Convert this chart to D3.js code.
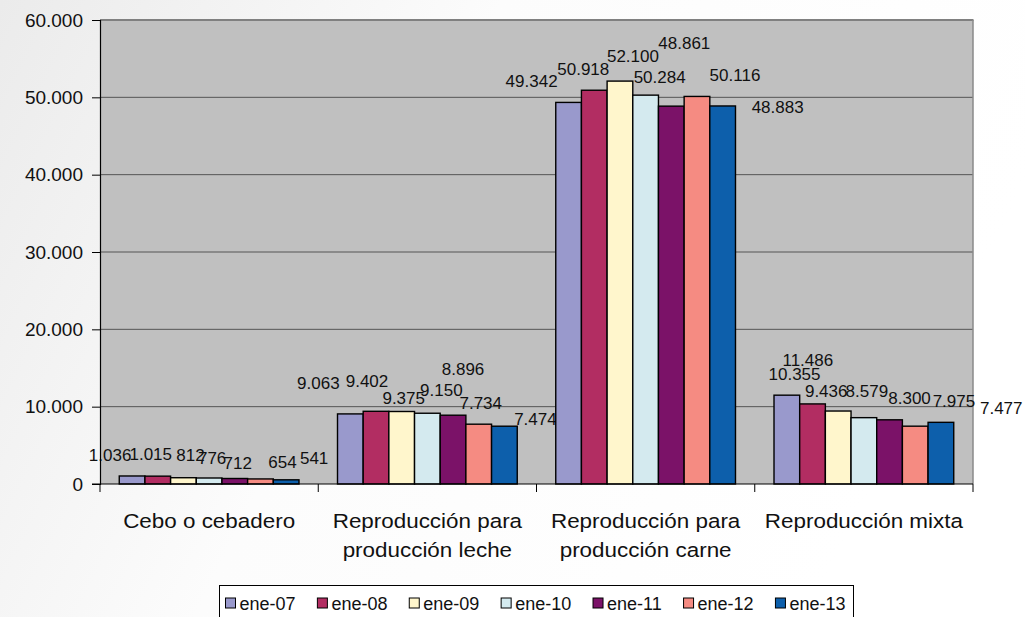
<!DOCTYPE html>
<html>
<head>
<meta charset="utf-8">
<script src="https://cdn.jsdelivr.net/npm/d3@7"></script>
<style>
  html, body { margin: 0; padding: 0; }
  body { width: 1025px; height: 617px; overflow: hidden; }
  svg { display: block; font-family: "Liberation Sans", Arial, sans-serif; }
</style>
</head>
<body>
<svg id="chart" width="1025" height="617"></svg>
<script>
// ---- data ----
const categories = ["Cebo o cebadero", "Reproducción para producción leche", "Reproducción para producción carne", "Reproducción mixta"];
const categoryLines = [["Cebo o cebadero"], ["Reproducción para", "producción leche"], ["Reproducción para", "producción carne"], ["Reproducción mixta"]];
const seriesNames = ["ene-07", "ene-08", "ene-09", "ene-10", "ene-11", "ene-12", "ene-13"];
const ene07 = [1036, 9063, 49342, 11486];
const ene08 = [1015, 9402, 50918, 10355];
const ene09 = [812, 9375, 52100, 9436];
const ene10 = [776, 9150, 50284, 8579];
const ene11 = [712, 8896, 48861, 8300];
const ene12 = [654, 7734, 50116, 7477];
const ene13 = [541, 7474, 48883, 7975];
const yTicks = [0, 10000, 20000, 30000, 40000, 50000, 60000];

// ---- presentation ----
const FONT = "'Liberation Sans', Arial, sans-serif";
const colors = ["#9999CC", "#B22D62", "#FFF6CC", "#D4EAEF", "#7B1268", "#F58B82", "#0D5FAB"];
// nudges of the data labels (dx, dy) relative to their default place above each bar, per category then series
const labelNudge = [
  [[-22,-9],[-7,-10],[7,-11],[3,-8],[3,-3],[22,-5],[28,-10]],
  [[-32,-19],[-9,-18],[2,-2],[14,-11],[10,-34],[2,-9],[31,5]],
  [[-37,-9],[-11,-9],[13,-13],[14,-6],[13,-51],[38,-9],[55,13]],
  [[21,-23],[-18,-18],[-12,-8],[3,-15],[20,-10],[86,-6],[13,-9]]
];

const seriesValues = [ene07, ene08, ene09, ene10, ene11, ene12, ene13];
const table = categories.map((c, ci) => ({
  cat: c, ci,
  vals: seriesNames.map((s, si) => ({ s, si, ci, v: seriesValues[si][ci] }))
}));

const svg = d3.select("#chart");
const W = 1025, H = 617;
const plot = { left: 100, right: 973, top: 20, bottom: 484 };

const locale = d3.formatLocale({ decimal: ",", thousands: ".", grouping: [3], currency: ["", ""] });
const fmt = locale.format(",d");

// background gradient
const defs = svg.append("defs");
const grad = defs.append("linearGradient").attr("id", "bg").attr("x1", "0").attr("y1", "0").attr("x2", "1").attr("y2", "0.3");
grad.append("stop").attr("offset", "0").attr("stop-color", "#ebebeb");
grad.append("stop").attr("offset", "0.45").attr("stop-color", "#fcfcfc");
grad.append("stop").attr("offset", "1").attr("stop-color", "#ffffff");
svg.append("rect").attr("width", W).attr("height", H).attr("fill", "url(#bg)");

const x0 = d3.scaleBand().domain(categories).range([plot.left, plot.right]).padding(0);
const bw = x0.bandwidth();
const gap = bw * 1.5 / 8.5;
const x1 = d3.scaleBand().domain(seriesNames).range([gap / 2, bw - gap / 2]).padding(0);
const y = d3.scaleLinear().domain([0, 60000]).range([plot.bottom, plot.top]);

// plot area
svg.append("rect")
  .attr("x", plot.left).attr("y", plot.top)
  .attr("width", plot.right - plot.left).attr("height", plot.bottom - plot.top)
  .attr("fill", "#C0C0C0");

// gridlines
svg.append("g").selectAll("line").data(yTicks.filter(t => t > 0 && t < 60000)).join("line")
  .attr("x1", plot.left).attr("x2", plot.right)
  .attr("y1", d => y(d)).attr("y2", d => y(d))
  .attr("stroke", "#555").attr("stroke-width", 1);
svg.append("line").attr("x1", plot.left).attr("x2", plot.right + 0.5)
  .attr("y1", y(60000)).attr("y2", y(60000)).attr("stroke", "#808080").attr("stroke-width", 2);
svg.append("line").attr("x1", plot.right).attr("x2", plot.right)
  .attr("y1", plot.top).attr("y2", plot.bottom).attr("stroke", "#8a8a8a").attr("stroke-width", 1.5);

// bars
const groups = svg.append("g").selectAll("g").data(table).join("g")
  .attr("transform", d => `translate(${x0(d.cat)},0)`);
groups.selectAll("rect").data(d => d.vals).join("rect")
  .attr("x", d => x1(d.s)).attr("y", d => y(d.v))
  .attr("width", x1.bandwidth()).attr("height", d => y(0) - y(d.v))
  .attr("fill", d => colors[d.si]).attr("stroke", "#000").attr("stroke-width", 1.4);

// data labels
groups.selectAll("text").data(d => d.vals).join("text")
  .attr("x", d => x1(d.s) + x1.bandwidth() / 2 + labelNudge[d.ci][d.si][0])
  .attr("y", d => y(d.v) - 6 + labelNudge[d.ci][d.si][1])
  .attr("text-anchor", "middle").attr("font-size", "17px").attr("font-family", FONT).attr("fill", "#111")
  .text(d => fmt(d.v));

// y axis
const yAxis = d3.axisLeft(y).tickValues(yTicks).tickSize(8).tickPadding(9).tickFormat(d => fmt(d));
const gy = svg.append("g").attr("transform", `translate(${plot.left},0)`).call(yAxis);
gy.select(".domain").attr("stroke", "#000").attr("stroke-width", 1.2);
gy.selectAll(".tick line").attr("stroke", "#000");
gy.selectAll(".tick text").attr("font-size", "19px").attr("fill", "#111").attr("font-family", FONT);

// x axis
const gx = svg.append("g").attr("transform", `translate(0,${plot.bottom})`);
gx.append("line").attr("x1", plot.left - 8).attr("x2", plot.right).attr("y1", 0).attr("y2", 0).attr("stroke", "#000").attr("stroke-width", 1.2);
const bounds = categories.map(c => x0(c)).concat([plot.right]);
gx.selectAll("line.tk").data(bounds).join("line").attr("class", "tk")
  .attr("x1", d => d).attr("x2", d => d).attr("y1", 0).attr("y2", 8).attr("stroke", "#000");
categories.forEach((c, i) => {
  categoryLines[i].forEach((line, li) => {
    gx.append("text")
      .attr("transform", `translate(${x0(c) + bw / 2},${44 + li * 29}) scale(1.15,1)`)
      .attr("text-anchor", "middle").attr("font-size", "19.5px").attr("font-family", FONT).attr("fill", "#111")
      .text(line);
  });
});

// legend
const lg = svg.append("g");
const lgBox = { x: 219.5, y: 585.5, w: 634, h: 40 };
lg.append("rect").attr("x", lgBox.x).attr("y", lgBox.y).attr("width", lgBox.w).attr("height", lgBox.h)
  .attr("fill", "#fff").attr("stroke", "#000").attr("stroke-width", 1);
const items = lg.selectAll("g").data(seriesNames).join("g");
items.append("rect").attr("width", 10).attr("height", 10).attr("y", 598)
  .attr("fill", (d, i) => colors[i]).attr("stroke", "#000").attr("stroke-width", 1);
items.append("text").attr("x", 14).attr("y", 610).attr("font-size", "18px").attr("font-family", FONT).attr("fill", "#111").text(d => d);
const widths = items.nodes().map(n => 14 + d3.select(n).select("text").node().getComputedTextLength());
const totalW = d3.sum(widths);
const padL = 6, padR = 8;
const between = (lgBox.w - padL - padR - totalW) / (seriesNames.length - 1);
let cx = lgBox.x + padL;
items.each(function(d, i) {
  d3.select(this).attr("transform", `translate(${cx},0)`);
  cx += widths[i] + between;
});
</script>
</body>
</html>
